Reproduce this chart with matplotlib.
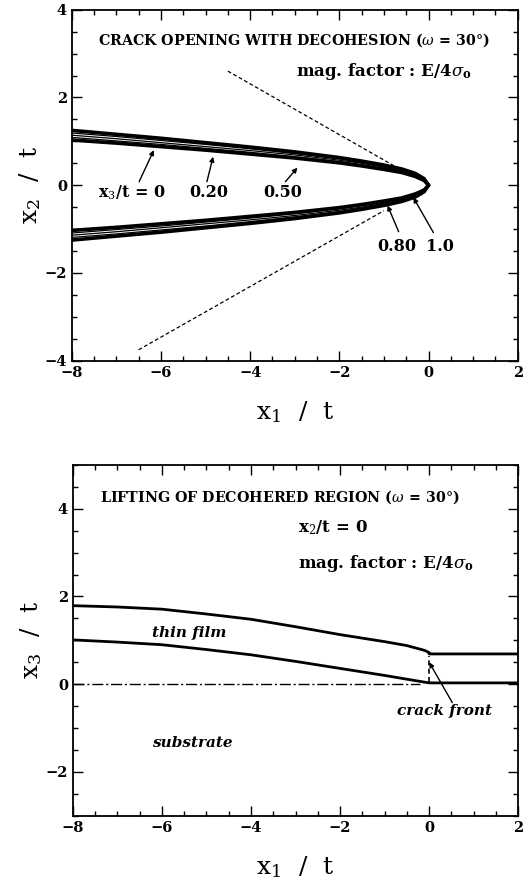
import matplotlib
matplotlib.use("Agg")
import matplotlib.pyplot as plt
from matplotlib.ticker import MultipleLocator

plt.rcParams['font.family'] = ['DejaVu Serif']
plt.rcParams['mathtext.fontset'] = 'dejavuserif'

# --- top panel: crack opening profiles (upper half; lower half mirrored)
x1_top = [-8, -7, -6, -5, -4, -3, -2, -1.5, -1, -0.6, -0.3, -0.1, 0]
open_x3_0 = [1.25, 1.16, 1.07, 0.97, 0.87, 0.76, 0.63, 0.55, 0.46, 0.37, 0.27, 0.15, 0]
open_x3_020 = [1.19, 1.11, 1.02, 0.93, 0.83, 0.72, 0.60, 0.52, 0.43, 0.35, 0.25, 0.14, 0]
open_x3_050 = [1.14, 1.06, 0.97, 0.88, 0.79, 0.69, 0.57, 0.50, 0.41, 0.33, 0.24, 0.13, 0]
open_x3_080 = [1.09, 1.01, 0.93, 0.84, 0.75, 0.65, 0.54, 0.47, 0.39, 0.31, 0.22, 0.12, 0]
open_x3_100 = [1.03, 0.96, 0.88, 0.80, 0.71, 0.62, 0.51, 0.44, 0.36, 0.29, 0.20, 0.11, 0]
curves_top = [open_x3_0, open_x3_020, open_x3_050, open_x3_080, open_x3_100]
curve_lw = [2.6, 0.9, 0.9, 0.9, 2.6]

# 30 degree guide lines
guide_up_x = [-4.5, -0.7]
guide_up_y = [2.60, 0.40]
guide_lo_x = [-6.5, -1.0]
guide_lo_y = [-3.75, -0.58]

# --- bottom panel: lifting of decohered region
x1_bot = [-8, -7, -6, -5, -4, -3, -2, -1, -0.5, -0.1, 0.0, 0.0, 2.0]
film_top = [1.79, 1.76, 1.71, 1.60, 1.48, 1.31, 1.13, 0.97, 0.88, 0.77, 0.72, 0.69, 0.69]
x1_bot2 = [-8, -7, -6, -5, -4, -3, -2, -1, -0.3, 0.0, 2.0]
film_bottom = [1.01, 0.96, 0.90, 0.79, 0.67, 0.52, 0.36, 0.20, 0.08, 0.03, 0.03]
base_x = [-8, -0.2]
base_y = [0, 0]
front_x = [0, 0]
front_y = [0.05, 0.65]

fig = plt.figure(figsize=(5.24, 8.82), dpi=100)
ax1 = fig.add_axes([0.137, 0.591, 0.851, 0.398])
ax2 = fig.add_axes([0.139, 0.075, 0.850, 0.398])

for c, lw in zip(curves_top, curve_lw):
    ax1.plot(x1_top, c, color='black', lw=lw, solid_capstyle='round')
    ax1.plot(x1_top, [-v for v in c], color='black', lw=lw, solid_capstyle='round')
ax1.plot(guide_up_x, guide_up_y, color='black', lw=0.9, ls=(0, (3, 2)))
ax1.plot(guide_lo_x, guide_lo_y, color='black', lw=0.9, ls=(0, (3, 2)))

ax1.set_xlim(-8, 2)
ax1.set_ylim(-4, 4)

tfont = dict(fontsize=10.3, fontweight='bold', color='black')
mfont = dict(fontsize=12, fontweight='bold', color='black')
ax1.text(-7.42, 3.3, "CRACK OPENING WITH DECOHESION ($\\omega$ = 30°)", ha='left', va='center', **tfont)
ax1.text(-2.97, 2.59, "mag. factor : E/4$\\sigma_\\mathbf{o}$", ha='left', va='center', **mfont)

lab = dict(fontsize=11.5, fontweight='bold', ha='center', va='center')
ax1.text(-6.65, -0.17, "x$_3$/t = 0", **lab)
ax1.text(-4.92, -0.17, "0.20", **lab)
ax1.text(-3.28, -0.17, "0.50", **lab)
ax1.text(-0.72, -1.40, "0.80", **lab)
ax1.text(0.25, -1.40, "1.0", **lab)

arr = dict(arrowstyle='-|>', color='black', lw=1.0, mutation_scale=7, shrinkA=0, shrinkB=0)
ax1.annotate("", xy=(-6.16, 0.80), xytext=(-6.49, 0.08), arrowprops=arr)
ax1.annotate("", xy=(-4.83, 0.65), xytext=(-4.97, 0.08), arrowprops=arr)
ax1.annotate("", xy=(-2.94, 0.40), xytext=(-3.21, 0.08), arrowprops=arr)
ax1.annotate("", xy=(-0.92, -0.46), xytext=(-0.67, -1.06), arrowprops=arr)
ax1.annotate("", xy=(-0.34, -0.28), xytext=(0.11, -1.08), arrowprops=arr)

ax2.plot(x1_bot, film_top, color='black', lw=2.0)
ax2.plot(x1_bot2, film_bottom, color='black', lw=2.0)
ax2.plot(base_x, base_y, color='black', lw=1.0, ls=(0, (8, 2, 1.5, 2)))
ax2.plot(front_x, front_y, color='black', lw=1.2, ls=(0, (3, 2)))
ax2.set_xlim(-8, 2)
ax2.set_ylim(-3, 5)

ax2.text(-7.39, 4.27, "LIFTING OF DECOHERED REGION ($\\omega$ = 30°)", ha='left', va='center', **tfont)
ax2.text(-2.94, 3.56, "x$_2$/t = 0", ha='left', va='center', **mfont)
ax2.text(-2.94, 2.76, "mag. factor : E/4$\\sigma_\\mathbf{o}$", ha='left', va='center', **mfont)
ax2.text(-6.22, 1.17, "thin film", ha='left', va='center', fontsize=11, fontweight='bold', style='italic')
ax2.text(-6.22, -1.33, "substrate", ha='left', va='center', fontsize=11, fontweight='bold', style='italic')
ax2.text(-0.72, -0.6, "crack front", ha='left', va='center', fontsize=11, fontweight='bold', style='italic')
ax2.annotate("", xy=(0.0, 0.50), xytext=(0.52, -0.42), arrowprops=arr)

for ax in (ax1, ax2):
    ax.xaxis.set_major_locator(MultipleLocator(2))
    ax.xaxis.set_minor_locator(MultipleLocator(0.5))
    ax.yaxis.set_major_locator(MultipleLocator(2))
    ax.yaxis.set_minor_locator(MultipleLocator(0.5))
    ax.tick_params(which='both', direction='in', top=True, right=True, width=1.0)
    ax.tick_params(which='major', length=7)
    ax.tick_params(which='minor', length=3.5)
    ax.tick_params(labelsize=10.5)
    for t in ax.get_xticklabels() + ax.get_yticklabels():
        t.set_fontweight('bold')
    for s in ax.spines.values():
        s.set_linewidth(1.3)
    ax.set_xlabel("x$_1$  /  t", fontsize=18, labelpad=14)

ax1.set_ylabel("x$_2$  /  t", fontsize=18, labelpad=1)
ax2.set_ylabel("x$_3$  /  t", fontsize=18, labelpad=1)

fig.savefig("out.png", dpi=100)
